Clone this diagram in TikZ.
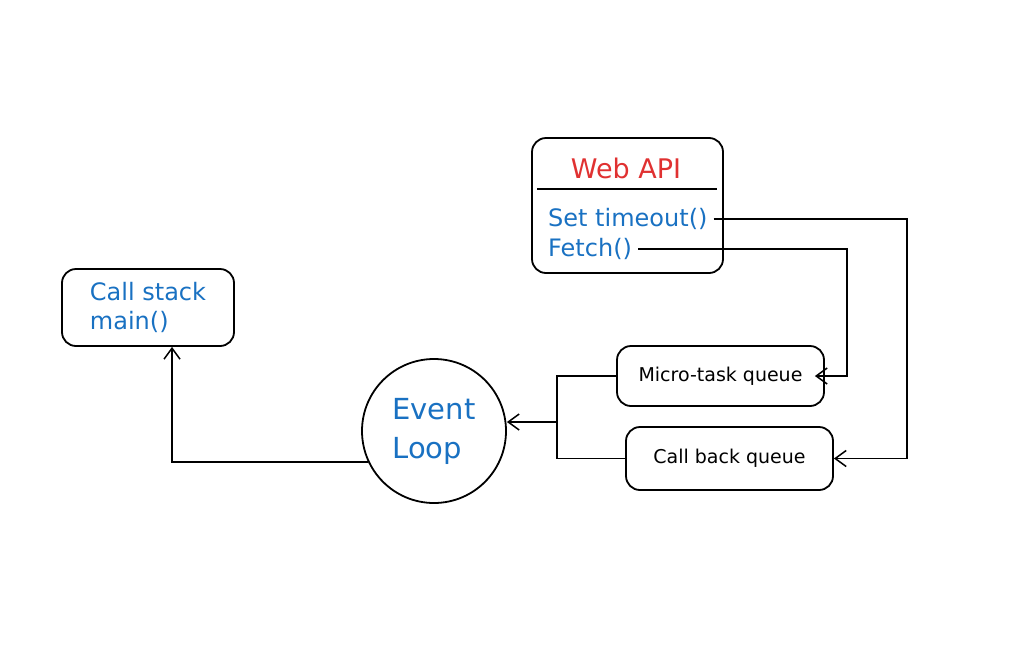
\documentclass[tikz,border=0pt]{standalone}
\usepackage{fontspec}
\setmainfont{DejaVu Sans}
\usepackage{tikz}
\usetikzlibrary{arrows.meta}
\definecolor{jsblue}{HTML}{1971C2}
\definecolor{jsred}{HTML}{E03131}

\begin{document}
\begin{tikzpicture}[x=1pt, y=-1pt,
  box/.style={draw, rounded corners=14pt, line width=1.8pt, inner sep=0pt},
  blue text/.style={text=jsblue, font=\fontsize{24}{29}\selectfont, align=left, inner sep=0pt},
  queue/.style={box, minimum width=207pt, font=\fontsize{19}{23}\selectfont},
  flow/.style={draw, line width=1.5pt, -{Straight Barb[length=11pt, width=16pt]}},
  link/.style={draw, line width=1.5pt},
]
\useasboundingbox (0,0) rectangle (1024,667);

% boxes
\node[box, blue text, minimum width=172pt, minimum height=77pt] (callstack) at (148,307.5) {Call stack\\main()};
\node[box, minimum width=191pt, minimum height=135pt] (webapi) at (627.5,205.5) {};
\node[text=jsred, font=\fontsize{27}{30}\selectfont] (apititle) at (626,168) {Web API};
\draw[line width=1.8pt] (537,189) -- (717,189);
\node[blue text, inner xsep=6pt, anchor=west] (settimeout) at (542,219) {Set timeout()};
\node[blue text, inner xsep=6pt, anchor=west] (fetch) at (542,249) {Fetch()};
\node[draw, circle, line width=1.8pt, minimum size=144pt, text=jsblue, font=\fontsize{29}{39}\selectfont, align=left] (loop) at (434,431) {Event\\Loop};
\node[queue, minimum height=60pt] (microtask) at (720.5,376) {Micro-task queue};
\node[queue, minimum height=63pt] (callback) at (729.5,458.5) {Call back queue};

% connectors
\coordinate (timerbend) at (907,458.5);
\coordinate (fetchbend) at (847,376);
\coordinate (merge) at (557,422);
\draw[flow] (settimeout.east) -| (timerbend) -- (callback.east);
\draw[flow] (fetch.east) -| (fetchbend) -- ([xshift=-10pt]microtask.east);
\draw[link] (microtask.west) -| (merge) |- (callback.west);
\draw[flow] (merge) -- (merge -| loop.east);
\draw[flow] (loop.205) -| ([xshift=24pt]callstack.south);
\end{tikzpicture}
\end{document}
